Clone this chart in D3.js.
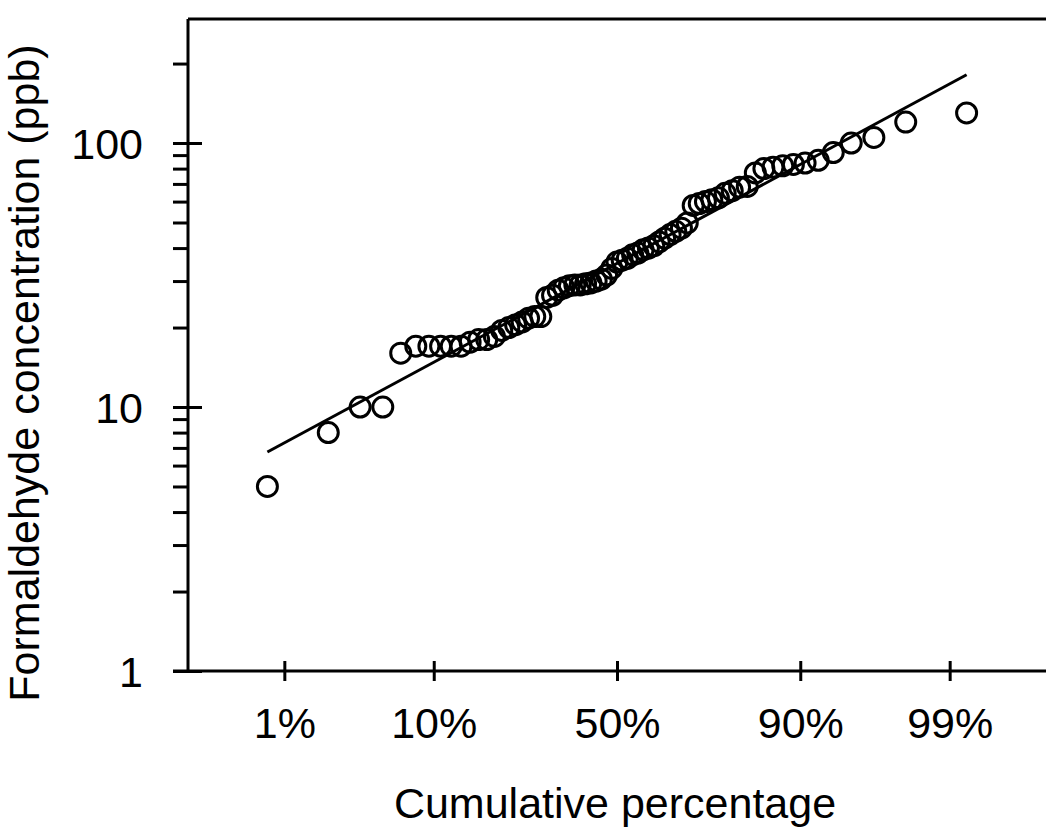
<!DOCTYPE html>
<html>
<head>
<meta charset="utf-8">
<script src="https://cdn.jsdelivr.net/npm/d3@7"></script>
<style>
  html, body { margin: 0; padding: 0; background: #fff; }
  svg { display: block; font-family: "Liberation Sans", Arial, Helvetica, sans-serif; }
</style>
</head>
<body>
<svg id="chart" width="1050" height="835"></svg>
<script>
// ---- data (sorted formaldehyde concentrations, ppb) ----
const concentrations = [
  5, 8, 10, 10, 16, 17, 17, 17, 17, 17,
  17.6, 18, 18, 18.5, 19.5, 20, 20.5, 21, 21.7, 22,
  22, 26, 26.5, 27.7, 28.3, 28.8, 29, 29, 29.3, 29.5,
  30, 30.5, 31.6, 33.5, 35.4, 36, 36.6, 37.7, 38.3, 39.4,
  40, 40.8, 42.2, 43.6, 45, 46.3, 47.6, 49.8, 58, 59,
  60, 61, 62, 64.5, 66, 68, 68.5, 77, 80, 81,
  82, 83, 84, 86, 92, 100, 105, 120, 130
];
// log-normal fit line (geometric mean, geometric SD)
const fitGeoMean = 35.0;
const fitGeoSD = 1.96;
// axis ticks
const xTickPercents = [1, 10, 50, 90, 99];
const xTickLabels = ["1%", "10%", "50%", "90%", "99%"];
const yMajorTicks = [1, 10, 100];
const yMajorLabels = ["1", "10", "100"];
const yMinorTicks = [2, 3, 4, 5, 6, 7, 8, 9, 20, 30, 40, 50, 60, 70, 80, 90, 200];
const xTitle = "Cumulative percentage";
const yTitle = "Formaldehyde concentration (ppb)";

// inverse standard normal CDF (Acklam)
function probit(p) {
  const a = [-3.969683028665376e+01, 2.209460984245205e+02, -2.759285104469687e+02, 1.383577518672690e+02, -3.066479806614716e+01, 2.506628277459239e+00];
  const b = [-5.447609879822406e+01, 1.615858368580409e+02, -1.556989798598866e+02, 6.680131188771972e+01, -1.328068155288572e+01];
  const c = [-7.784894002430293e-03, -3.223964580411365e-01, -2.400758277161838e+00, -2.549732539343734e+00, 4.374664141464968e+00, 2.938163982698783e+00];
  const d = [7.784695709041462e-03, 3.224671290700398e-01, 2.445134137142996e+00, 3.754408661907416e+00];
  const pl = 0.02425, ph = 1 - pl;
  let q, r;
  if (p < pl) {
    q = Math.sqrt(-2 * Math.log(p));
    return (((((c[0]*q+c[1])*q+c[2])*q+c[3])*q+c[4])*q+c[5]) / ((((d[0]*q+d[1])*q+d[2])*q+d[3])*q+1);
  } else if (p <= ph) {
    q = p - 0.5; r = q * q;
    return (((((a[0]*r+a[1])*r+a[2])*r+a[3])*r+a[4])*r+a[5])*q / (((((b[0]*r+b[1])*r+b[2])*r+b[3])*r+b[4])*r+1);
  } else {
    q = Math.sqrt(-2 * Math.log(1 - p));
    return -(((((c[0]*q+c[1])*q+c[2])*q+c[3])*q+c[4])*q+c[5]) / ((((d[0]*q+d[1])*q+d[2])*q+d[3])*q+1);
  }
}

const n = concentrations.length;
const points = concentrations.map((v, i) => ({ p: (i + 0.5) / n, v }));

// ---- layout ----
const M = { left: 188, right: 1046, top: 19, bottom: 671 };
const svg = d3.select("#chart");

const x = d3.scaleLinear().domain([-3, 3]).range([M.left, M.right]);
const y = d3.scaleLog().domain([1, 295]).range([M.bottom, M.top]);

const ink = "#000";
const fs = 43;

// frame top line
svg.append("line")
  .attr("x1", M.left).attr("x2", M.right).attr("y1", M.top).attr("y2", M.top)
  .attr("stroke", ink).attr("stroke-width", 3);

// y axis minor
const yMinor = d3.axisLeft(y).tickValues(yMinorTicks).tickSize(15).tickFormat("");
svg.append("g").attr("transform", `translate(${M.left},0)`).call(yMinor)
  .call(g => g.select(".domain").remove())
  .call(g => g.selectAll("line").attr("stroke", ink).attr("stroke-width", 3));

// y axis major
const yMajor = d3.axisLeft(y).tickValues(yMajorTicks)
  .tickFormat((d, i) => yMajorLabels[i]).tickSize(15).tickSizeOuter(0).tickPadding(30);
svg.append("g").attr("transform", `translate(${M.left},0)`).call(yMajor)
  .call(g => g.select(".domain").attr("stroke", ink).attr("stroke-width", 3)
      .attr("d", `M0,${M.top}V${M.bottom}`))
  .call(g => g.selectAll(".tick line").attr("stroke", ink).attr("stroke-width", 3)
      .attr("x1", 14).attr("x2", -15))
  .call(g => g.selectAll("text").attr("fill", ink).attr("font-size", fs)
      .attr("font-family", "Liberation Sans, Arial, sans-serif").attr("dy", "0.35em"));

// x axis
const xAxis = d3.axisBottom(x).tickValues(xTickPercents.map(pc => probit(pc / 100)))
  .tickFormat((d, i) => xTickLabels[i]).tickSize(10).tickSizeOuter(0).tickPadding(26);
svg.append("g").attr("transform", `translate(0,${M.bottom})`).call(xAxis)
  .call(g => g.select(".domain").attr("stroke", ink).attr("stroke-width", 3)
      .attr("d", `M${M.left - 15},0H${M.right}`))
  .call(g => g.selectAll(".tick line").attr("stroke", ink).attr("stroke-width", 3)
      .attr("y1", -10).attr("y2", 10))
  .call(g => g.selectAll("text").attr("fill", ink).attr("font-size", fs)
      .attr("font-family", "Liberation Sans, Arial, sans-serif"));

// fit line across the range of plotting positions
const zLo = probit(points[0].p), zHi = probit(points[n - 1].p);
const fitFn = z => fitGeoMean * Math.pow(fitGeoSD, z);
svg.append("path")
  .datum([zLo, zHi])
  .attr("fill", "none").attr("stroke", ink).attr("stroke-width", 3)
  .attr("d", d3.line().x(z => x(z)).y(z => y(fitFn(z))));

// points
svg.append("g").selectAll("circle").data(points).join("circle")
  .attr("cx", d => x(probit(d.p)))
  .attr("cy", d => y(d.v))
  .attr("r", 10)
  .attr("fill", "none").attr("stroke", ink).attr("stroke-width", 3);

// titles
svg.append("text").text(xTitle)
  .attr("x", 615).attr("y", 818).attr("text-anchor", "middle")
  .attr("font-size", fs).attr("fill", ink);
svg.append("text").text(yTitle)
  .attr("transform", "translate(39,373) rotate(-90)").attr("text-anchor", "middle")
  .attr("font-size", fs).attr("fill", ink);
</script>
</body>
</html>
